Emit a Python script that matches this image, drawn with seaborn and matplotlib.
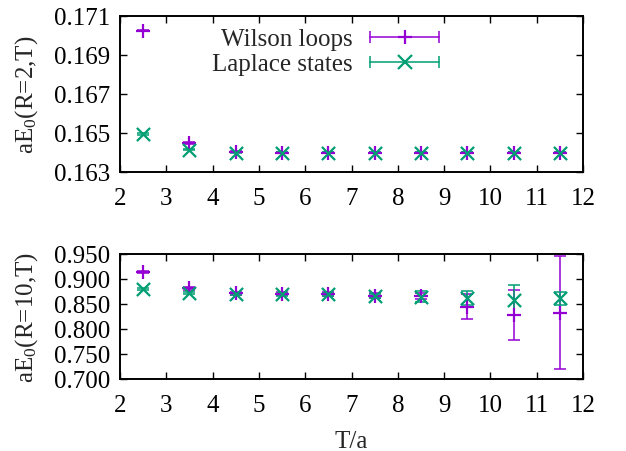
import numpy as np
import pandas as pd
import matplotlib
matplotlib.use("Agg")
import matplotlib.pyplot as plt
import seaborn as sns
from matplotlib.lines import Line2D
from matplotlib.legend_handler import HandlerLine2D, HandlerTuple

# Euclidean time separations
T = [2.5, 3.5, 4.5, 5.5, 6.5, 7.5, 8.5, 9.5, 10.5, 11.5]

# Ground state energies, R = 2
wilson_r2 = [0.17025, 0.16449, 0.16405, 0.16400, 0.16400, 0.16398, 0.16398, 0.16398, 0.16398, 0.16398]
wilson_r2_err = [0.00003, 0.00003, 0.00003, 0.00003, 0.00003, 0.00003, 0.00003, 0.00003, 0.00003, 0.00003]
laplace_r2 = [0.16495, 0.16415, 0.16400, 0.16398, 0.16398, 0.16398, 0.16398, 0.16398, 0.16398, 0.16398]
laplace_r2_err = [0.00003, 0.00003, 0.00003, 0.00003, 0.00003, 0.00003, 0.00003, 0.00003, 0.00003, 0.00003]

# Ground state energies, R = 10
wilson_r10 = [0.9146, 0.882, 0.872, 0.871, 0.871, 0.867, 0.866, 0.845, 0.828, 0.833]
wilson_r10_err = [0.002, 0.003, 0.003, 0.003, 0.004, 0.005, 0.006, 0.025, 0.050, 0.113]
laplace_r10 = [0.880, 0.873, 0.871, 0.870, 0.870, 0.866, 0.865, 0.863, 0.858, 0.862]
laplace_r10_err = [0.002, 0.002, 0.002, 0.003, 0.003, 0.004, 0.011, 0.014, 0.030, 0.013]

series_names = ["Wilson loops", "Laplace states"]
y_labels = ["aE$_\\mathrm{0}$(R=2,T)", "aE$_\\mathrm{0}$(R=10,T)"]
x_label = "T/a"
x_ticks = [2, 3, 4, 5, 6, 7, 8, 9, 10, 11, 12]
y_ticks_r2 = [0.163, 0.165, 0.167, 0.169, 0.171]
y_ticks_r10 = [0.700, 0.750, 0.800, 0.850, 0.900, 0.950]

sns.set_theme(style="ticks")
plt.rcParams["font.family"] = ["Liberation Serif", "DejaVu Serif"]
plt.rcParams["mathtext.fontset"] = "custom"
plt.rcParams["mathtext.rm"] = "Liberation Serif"
plt.rcParams["mathtext.it"] = "Liberation Serif:italic"
plt.rcParams["mathtext.bf"] = "Liberation Serif:bold"

colors = {"Wilson loops": "#9400d3", "Laplace states": "#009e73"}
mk = {"Wilson loops": "+", "Laplace states": "x"}

FS = 18
W, H = 626, 452
fig = plt.figure(figsize=(W / 100, H / 100), dpi=100)
ax1 = fig.add_axes([120 / W, 1 - 173 / H, 463 / W, 156 / H])
ax2 = fig.add_axes([120 / W, 1 - 380 / H, 463 / W, 125 / H])

panels = [
    (ax1, wilson_r2, wilson_r2_err, laplace_r2, laplace_r2_err, y_ticks_r2, (0.163, 0.171)),
    (ax2, wilson_r10, wilson_r10_err, laplace_r10, laplace_r10_err, y_ticks_r10, (0.700, 0.950)),
]

for ax, wv, we, lv, le, yt, ylim in panels:
    df = pd.DataFrame({
        "T": T * 2,
        "E": wv + lv,
        "err": we + le,
        "series": [series_names[0]] * len(T) + [series_names[1]] * len(T),
    })
    for name in series_names:
        sub = df[df["series"] == name]
        ax.errorbar(sub["T"], sub["E"], yerr=sub["err"], fmt="none",
                    ecolor=colors[name], elinewidth=1.1, capsize=4.3,
                    capthick=1.1, zorder=2)
        sns.scatterplot(data=sub, x="T", y="E", marker=mk[name],
                        color=colors[name], s=90, linewidth=1.6,
                        ax=ax, legend=False, zorder=3)
    ax.set_xlim(2, 12)
    ax.set_ylim(*ylim)
    ax.set_xticks(x_ticks)
    ax.set_yticks(yt)
    ax.set_yticklabels([f"{v:.3f}" for v in yt])
    ax.tick_params(direction="in", length=5, width=1.0, top=True, right=True,
                   labelsize=FS, pad=7, colors="black")
    ax.tick_params(axis="x", pad=11)
    for s in ax.spines.values():
        s.set_linewidth(1.4)
        s.set_color("black")
    ax.set_xlabel("")

ax1.set_ylabel(y_labels[0], fontsize=FS)
ax2.set_ylabel(y_labels[1], fontsize=FS)
ax1.yaxis.set_label_coords(-0.173, 0.5)
ax2.yaxis.set_label_coords(-0.173, 0.5)
ax2.set_xlabel(x_label, fontsize=FS)
ax2.xaxis.set_label_coords(0.5, -0.41)

# gnuplot-style key: label, then a horizontal error bar with the point symbol
handles = []
hmap = {}
for name in series_names:
    bar = Line2D([], [], color=colors[name], lw=1.1, marker="|",
                 markersize=8, markeredgewidth=1.1)
    pt = Line2D([], [], color=colors[name], lw=0, marker=mk[name],
                markersize=9.5, markeredgewidth=1.6)
    hmap[bar] = HandlerLine2D(numpoints=2, marker_pad=0)
    handles.append((bar, pt))
hmap[tuple] = HandlerTuple(ndivide=1, pad=0)
leg = ax1.legend(handles, series_names, handler_map=hmap, loc="upper right",
                 bbox_to_anchor=((439 - 120) / 463, 0.924), markerfirst=False,
                 frameon=False, fontsize=FS, handlelength=69 / 25,
                 handletextpad=0.68, labelspacing=0.1, borderpad=0,
                 borderaxespad=0)

fig.savefig("out.png", dpi=100)
